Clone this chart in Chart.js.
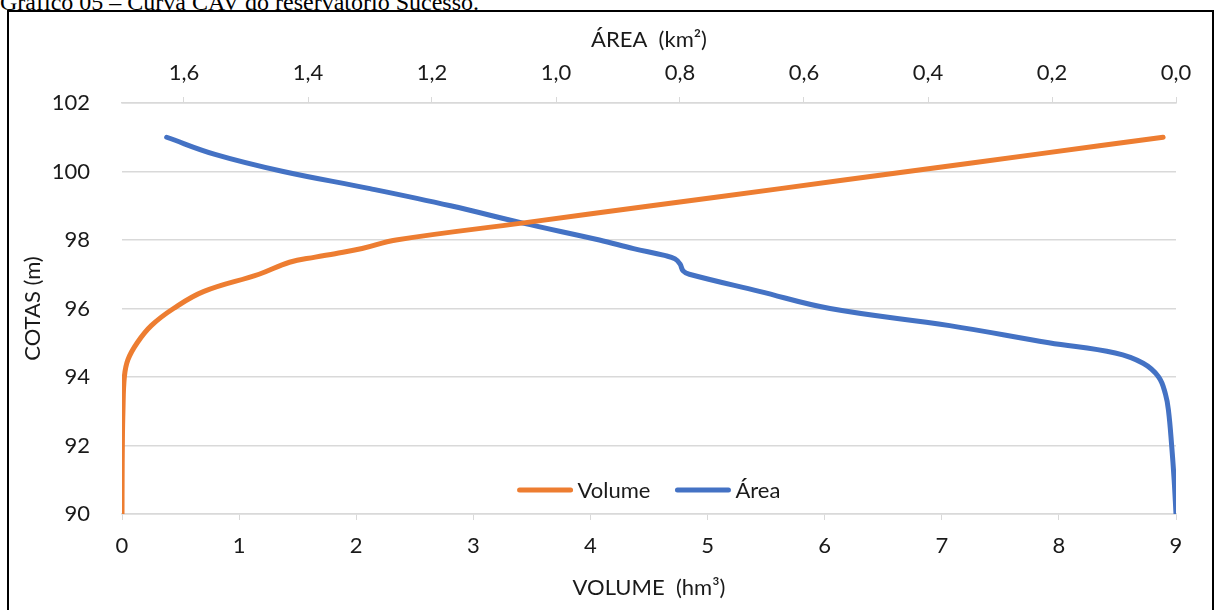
<!DOCTYPE html>
<html>
<head>
<meta charset="utf-8">
<script src="https://cdn.jsdelivr.net/npm/chart.js@4/dist/chart.umd.min.js"></script>
<style>
  html, body { margin: 0; padding: 0; background: #fff; }
  body { width: 1216px; height: 610px; position: relative; overflow: hidden; }
  #caption {
    position: absolute; left: 0; top: -8px; white-space: nowrap;
    font-family: "Liberation Serif", "Times New Roman", serif;
    font-size: 24px; line-height: 20px; color: #000;
  }
  #frame {
    position: absolute; left: 7px; top: 10px; width: 1203px; height: 640px;
    border: 2px solid #000; pointer-events: none;
  }
  #cav { position: absolute; left: 0; top: 0; }
</style>
</head>
<body>
<div id="caption">Gráfico 05 – Curva CAV do reservatório Sucesso.</div>
<canvas id="cav" width="1216" height="610"></canvas>
<div id="frame"></div>
<script>
// cotas (m) e volumes (hm³)
const cotasVolume = [90, 91, 92, 93, 94, 94.5, 95, 95.5, 96, 96.5, 97, 97.35, 97.5, 97.6, 97.75, 98, 98.5, 99, 99.5, 100, 100.5, 101];
const volumes = [0, 0.001, 0.003, 0.008, 0.02, 0.05, 0.13, 0.25, 0.44, 0.7, 1.17, 1.43, 1.65, 1.82, 2.05, 2.34, 3.43, 4.52, 5.62, 6.71, 7.8, 8.89];

// cotas (m) e áreas (km²)
const cotasArea = [90, 91, 92, 93, 93.5, 94, 94.4, 94.7, 95, 95.5, 96, 96.5, 97, 97.1, 97.3, 97.45, 97.55, 97.75, 98, 98.5, 99, 99.5, 100, 100.5, 101];
const areas = [0, 0.003, 0.007, 0.012, 0.017, 0.028, 0.053, 0.098, 0.205, 0.365, 0.558, 0.672, 0.785, 0.795, 0.8, 0.808, 0.825, 0.875, 0.93, 1.055, 1.17, 1.3, 1.44, 1.55, 1.628];

const fonte = "Lato, 'Open Sans', sans-serif";
const tam = 22;
const corTexto = "#1a1a1a";
const corGrade = "#d9d9d9";

const toPoints = (xs, ys) => xs.map((x, i) => ({ x, y: ys[i] }));
const virgula = (v) => Number(v).toFixed(1).replace(".", ",");

// legenda dentro da área do gráfico, acima do eixo inferior
const legendaInterna = {
  id: "legendaInterna",
  afterDraw(chart) {
    const ctx = chart.ctx;
    const area = chart.chartArea;
    ctx.save();
    ctx.font = tam + "px " + fonte;
    const linha = 55, gap = 5, entre = 25;
    const itens = chart.data.datasets.map((ds) => ({
      label: ds.label,
      color: ds.borderColor,
      w: linha + gap + ctx.measureText(ds.label).width,
    }));
    const total = itens.reduce((s, it) => s + it.w, 0) + entre * (itens.length - 1);
    let x = (area.left + area.right) / 2 - total / 2;
    const y = 490;
    itens.forEach((it) => {
      ctx.strokeStyle = it.color;
      ctx.lineWidth = 5;
      ctx.lineCap = "round";
      ctx.beginPath();
      ctx.moveTo(x + 2, y);
      ctx.lineTo(x + linha - 2, y);
      ctx.stroke();
      ctx.fillStyle = corTexto;
      ctx.textBaseline = "middle";
      ctx.textAlign = "left";
      ctx.fillText(it.label, x + linha + gap, y + 1);
      x += it.w + entre;
    });
    ctx.restore();
  },
};

const ctx = document.getElementById("cav").getContext("2d");
new Chart(ctx, {
  type: "line",
  data: {
    datasets: [
      {
        label: "Volume",
        data: toPoints(volumes, cotasVolume),
        xAxisID: "x",
        borderColor: "#ED7D31",
        borderWidth: 5,
        borderCapStyle: "round",
        pointRadius: 0,
        tension: 0.4,
      },
      {
        label: "Área",
        data: toPoints(areas, cotasArea),
        xAxisID: "x2",
        borderColor: "#4472C4",
        borderWidth: 5,
        borderCapStyle: "round",
        pointRadius: 0,
        tension: 0.4,
      },
    ],
  },
  options: {
    responsive: false,
    animation: false,
    layout: { padding: { left: 0, right: 40, top: 0, bottom: 0 } },
    plugins: { legend: { display: false }, tooltip: { enabled: false } },
    scales: {
      x: {
        type: "linear",
        position: "bottom",
        min: 0,
        max: 9,
        ticks: { stepSize: 1, color: corTexto, font: { family: fonte, size: tam }, padding: 13 },
        grid: { drawOnChartArea: false, drawTicks: true, tickLength: 6, tickColor: corGrade, color: corGrade },
        border: { display: true, color: corGrade, width: 1.5 },
        title: { display: true, text: "VOLUME  (hm³)", color: corTexto, font: { family: fonte, size: tam }, padding: { bottom: 9 } },
        afterFit: (s) => { s.height = 96; },
      },
      x2: {
        type: "linear",
        position: "top",
        reverse: true,
        min: 0,
        max: 1.7,
        ticks: {
          stepSize: 0.2,
          includeBounds: false,
          color: corTexto,
          font: { family: fonte, size: tam },
          padding: 11,
          callback: (v) => virgula(v),
        },
        grid: { drawOnChartArea: false, drawTicks: true, tickLength: 6, tickColor: corGrade, color: corGrade },
        border: { display: true, color: corGrade, width: 1.5 },
        title: { display: true, text: "ÁREA  (km²)", color: corTexto, font: { family: fonte, size: tam }, padding: { top: 27 } },
        afterFit: (s) => { s.height = 103; },
      },
      y: {
        type: "linear",
        min: 90,
        max: 102,
        ticks: { stepSize: 2, color: corTexto, font: { family: fonte, size: tam }, padding: 32 },
        grid: { color: corGrade, lineWidth: 1.5, drawTicks: false },
        border: { display: false },
        title: { display: true, text: "COTAS (m)", color: corTexto, font: { family: fonte, size: tam }, padding: { top: 20 } },
        afterFit: (s) => { s.width = 122; },
      },
    },
  },
  plugins: [legendaInterna],
});
</script>
</body>
</html>
